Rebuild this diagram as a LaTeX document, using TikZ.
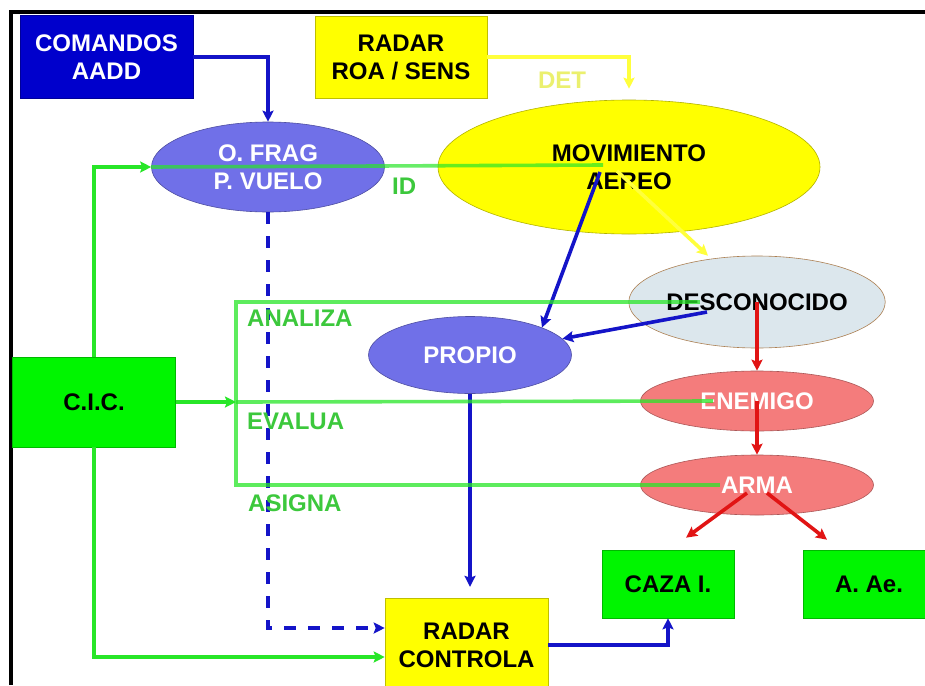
\documentclass[tikz,border=0pt]{standalone}
\usepackage{fontspec}
\setmainfont{Liberation Sans}
\usetikzlibrary{shapes.geometric,arrows.meta}

\definecolor{cmdblue}{RGB}{0,0,204}
\definecolor{roayellow}{RGB}{255,255,0}
\definecolor{fragblue}{RGB}{112,112,232}
\definecolor{descgray}{RGB}{220,231,237}
\definecolor{redfill}{RGB}{244,124,124}
\definecolor{boxgreen}{RGB}{0,245,0}
\definecolor{linegreen}{RGB}{40,230,40}
\definecolor{lblgreen}{RGB}{60,200,60}
\definecolor{lineblue}{RGB}{20,20,200}
\definecolor{linered}{RGB}{225,20,20}
\definecolor{lineyellow}{RGB}{255,255,60}
\definecolor{detyellow}{RGB}{235,240,110}

\begin{document}
\begin{tikzpicture}[x=1pt,y=-1pt,
  every node/.style={font=\fontsize{24}{28}\selectfont\bfseries,align=center,inner sep=0pt},
  box/.style={rectangle,draw=#1!75!black,fill=#1,line width=0.6pt},
  oval/.style={ellipse,draw=#1!70!black,fill=#1,line width=0.6pt},
  conn/.style={line width=3.6pt,-{Stealth[length=11pt,width=11pt,inset=2pt]}},
  wire/.style={line width=3.6pt,linegreen,opacity=0.75},
  lbl/.style={text=lblgreen,anchor=west}]
  \useasboundingbox (0,0) rectangle (925,685);
  \clip (0,0) rectangle (925,685);
  \fill[white] (0,0) rectangle (925,685);
  \draw[line width=3.5pt] (11,685) -- (11,12) -- (925,12);

  % boxes
  \node[box=cmdblue,text=white,minimum width=173pt,minimum height=83pt] (cmd) at (106.5,57) {COMANDOS\\AADD};
  \node[box=roayellow,minimum width=172pt,minimum height=82pt] (roa) at (401,57) {RADAR\\ROA / SENS};
  \node[box=boxgreen,minimum width=163pt,minimum height=90pt] (cic) at (94,402) {C.I.C.};
  \node[box=boxgreen,minimum width=132pt,minimum height=68pt] (caza) at (668,584) {CAZA I.};
  \node[box=boxgreen,minimum width=132pt,minimum height=68pt] (aae) at (869,584) {A. Ae.};
  \node[box=roayellow,minimum width=163pt,minimum height=94pt] (radarc) at (466.5,645) {RADAR\\CONTROLA};

  % ovals
  \node[oval=fragblue,text=white,minimum width=233pt,minimum height=90pt] (ofrag) at (268,167) {O. FRAG\\P. VUELO};
  \node[oval=roayellow,minimum width=382pt,minimum height=134pt] (mov) at (629,167) {MOVIMIENTO\\AEREO};
  \node[oval=descgray,draw=brown!70!gray,minimum width=233pt,minimum height=92pt] (desc) at (757,302) {DESCONOCIDO};
  \node[oval=fragblue,text=white,minimum width=203pt,minimum height=77pt] (propio) at (470,355) {PROPIO};
  \node[oval=redfill,text=white,minimum width=233pt,minimum height=60pt] (enemigo) at (757,401) {ENEMIGO};
  \node[oval=redfill,text=white,minimum width=233pt,minimum height=60pt] (arma) at (757,485) {ARMA};

  % blue
  \draw[conn,lineblue] (cmd.east) -| (ofrag.north);
  \draw[conn,lineblue,dashed,dash pattern=on 12pt off 12pt] (ofrag.south) |- ([yshift=17pt]radarc.west);
  \draw[conn,lineblue] ([shift={(-29pt,-5pt)}]mov.center) -- (propio.north east);
  \draw[conn,lineblue] ([shift={(-50pt,-10pt)}]desc.center) -- (propio.10);
  \draw[conn,lineblue] (propio.south) -- ++(0,193);
  \draw[conn,lineblue] (radarc.east) -| (caza.south);

  % yellow
  \draw[conn,lineyellow] (roa.east) -| ([yshift=11pt]mov.north);
  \node[text=detyellow] (det) at (562,80) {DET};
  \draw[conn,lineyellow] ([shift={(-12pt,-4pt)}]mov.center) -- ([xshift=-49pt]desc.north);

  % red
  \draw[conn,linered] (desc.center) -- (enemigo.north);
  \draw[conn,linered] (enemigo.center) -- (arma.north);
  \draw[conn,linered] ([shift={(-10pt,-8pt)}]arma.center) -- ([shift={(18pt,12pt)}]caza.north);
  \draw[conn,linered] ([shift={(10pt,-8pt)}]arma.center) -- ([shift={(-42pt,10pt)}]aae.north);

  % green
  \coordinate (brk) at (236,402);
  \draw[conn,linegreen] (cic.north) |- (ofrag.west);
  \draw[wire,opacity=0.7] (ofrag.west) -- ([shift={(-26pt,2pt)}]mov.center)
    node[pos=0.56,below=10pt,text=lblgreen,opacity=1] (id) {ID};
  \draw[conn,linegreen] (cic.south) |- ([yshift=-12pt]radarc.west);
  \draw[conn,linegreen] (cic.east) -- (brk);
  \draw[wire] ([xshift=-57pt]desc.center) -| (brk) |- ([xshift=-37pt]arma.center);
  \draw[wire] (brk) -- ([xshift=-44pt]enemigo.center);
  \node[lbl] (analiza) at (247,318) {ANALIZA};
  \node[lbl] (evalua) at (247,421) {EVALUA};
  \node[lbl] (asigna) at (248,503) {ASIGNA};
\end{tikzpicture}
\end{document}
